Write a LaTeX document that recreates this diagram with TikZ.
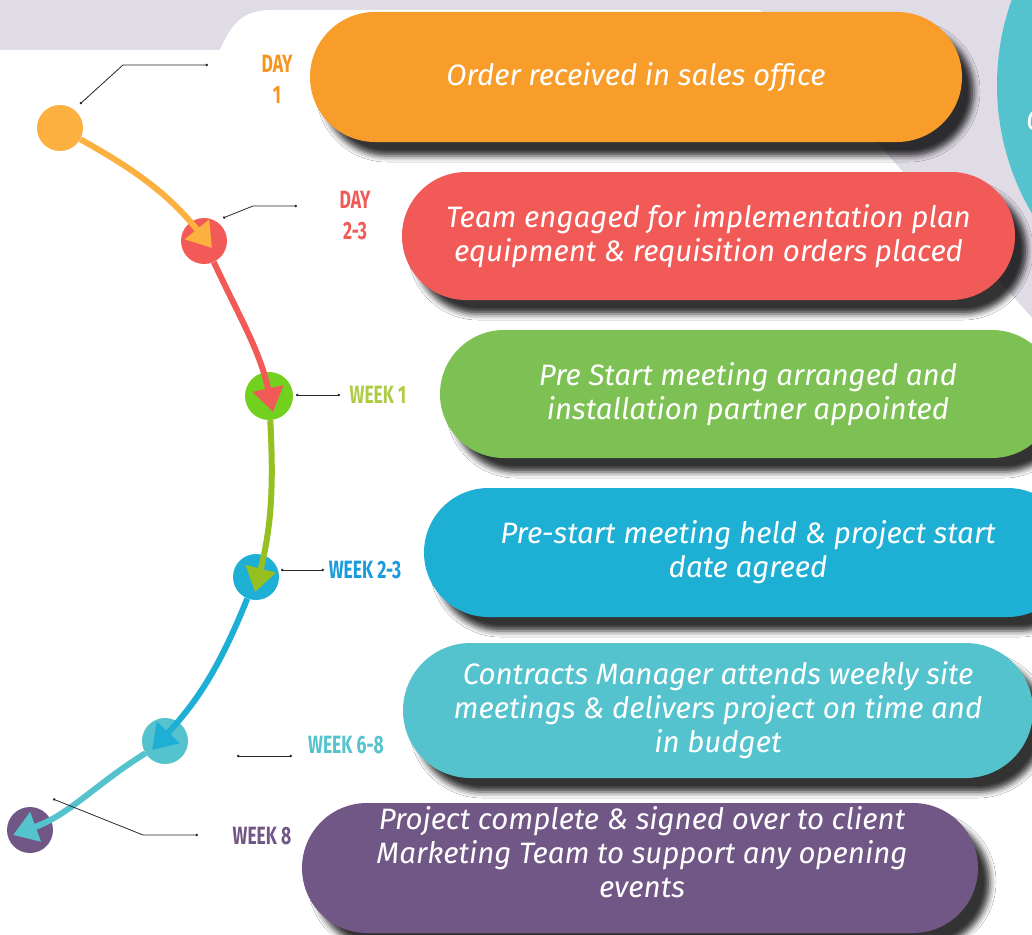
\documentclass[tikz,border=0pt]{standalone}
\usepackage{fontspec}
\setmainfont{Fira Sans}
\newfontfamily\tagfont[FakeStretch=0.7]{Fira Sans}
\usetikzlibrary{positioning, arrows.meta, shapes.misc, shadows.blur}

\definecolor{bggray}{RGB}{224,220,230}
\definecolor{orangepill}{HTML}{F89C2A}
\definecolor{orangedot}{HTML}{FBB040}
\definecolor{orangetag}{HTML}{F7941D}
\definecolor{redpill}{HTML}{F15A57}
\definecolor{greenpill}{HTML}{7DC154}
\definecolor{greendot}{HTML}{72D11F}
\definecolor{olivearrow}{HTML}{96BF21}
\definecolor{greentag}{HTML}{AFCB45}
\definecolor{bluepill}{HTML}{1EAFD5}
\definecolor{bluetag}{HTML}{1A9CDC}
\definecolor{tealpill}{HTML}{55C3CD}
\definecolor{purplepill}{HTML}{715786}

\tikzset{
  pill/.style={rounded rectangle, fill=#1, inner sep=0pt, text=white,
    font=\itshape\fontsize{29.5}{34}\selectfont, align=center,
    blur shadow={shadow xshift=12pt, shadow yshift=-14pt, shadow blur radius=6pt, shadow opacity=80}},
  note/.style={text=white, font=\itshape\fontsize{29.5}{34}\selectfont, align=center, inner sep=0pt},
  dot/.style={circle, fill=#1, minimum size=46pt, inner sep=0pt},
  tag/.style={text=#1, font=\tagfont\bfseries\fontsize{25}{31}\selectfont, align=center, inner sep=0pt},
  leader/.style={black!85, line width=0.8pt, {Circle[length=2.4pt]}-{Circle[length=2.4pt]}},
  flow/.style={draw=#1, line width=6pt, -{Triangle[length=24pt, width=30pt, fill=#1]}},
}

\begin{document}
\begin{tikzpicture}[x=1pt, y=1pt]
  \useasboundingbox (0,0) rectangle (1032,-934);
  \clip (0,0) rectangle (1032,-934);

  % background
  \fill[bggray] (0,0) rectangle (1032,-330);
  \fill[white] (0,-50) -- (220,-50) .. controls (232,-22) and (244,-10) .. (272,-10)
    -- (760,-10) -- (1032,-318) -- (1032,-934) -- (0,-934) -- cycle;
  \fill[tealpill] (1250,-85) circle (253pt);
  \node[note, anchor=west] (cut) at (1026,-120) {C};

  % steps
  \node[pill=orangepill, minimum width=652pt, minimum height=130pt] (p1) at (636,-77)
    {Order received in sales office};
  \node[pill=redpill, minimum width=613pt, minimum height=128pt] (p2) at (708.5,-236)
    {Team engaged for implementation plan\\equipment \& requisition orders placed};
  \node[pill=greenpill, minimum width=616pt, minimum height=128pt] (p3) at (748,-394)
    {Pre Start meeting arranged and\\installation partner appointed};
  \node[pill=bluepill, minimum width=648pt, minimum height=129pt] (p4) at (748,-552.5)
    {Pre-start meeting held \& project start\\date agreed};
  \node[pill=tealpill, minimum width=630pt, minimum height=135pt] (p5) at (718,-710.5)
    {Contracts Manager attends weekly site\\meetings \& delivers project on time and\\in budget};
  \node[pill=purplepill, minimum width=676pt, minimum height=130pt] (p6) at (640,-868) {};
  \node[note] (n6) at (642,-852)
    {Project complete \& signed over to client\\Marketing Team to support any opening\\events};

  % timeline
  \node[dot=orangedot] (c1) at (60,-128) {};
  \node[dot=redpill] (c2) at (204,-241) {};
  \node[dot=greendot, minimum size=48pt] (c3) at (269,-396) {};
  \node[dot=bluepill] (c4) at (256,-577) {};
  \node[dot=tealpill] (c5) at (165,-741) {};
  \node[dot=purplepill] (c6) at (30,-830) {};

  \coordinate (t2) at (212,-248);
  \coordinate (t3) at (273,-412);
  \coordinate (t4) at (255,-592);
  \coordinate (t5) at (152,-750);
  \coordinate (t6) at (13,-835);

  \draw[flow=orangedot] (c1) to[out=-29, in=129] (t2);
  \draw[flow=redpill] (c2) to[out=-65, in=102] (t3);
  \draw[flow=olivearrow] (c3) to[out=-87, in=76] (t4);
  \draw[flow=bluepill] (c4) to[out=-112, in=47] (t5);
  \draw[flow=tealpill] (c5) to[out=-148, in=20] (t6);

  % labels
  \node[tag=orangetag] (g1) at (277,-79) {DAY\\1};
  \node[tag=redpill] (g2) at (355,-216) {DAY\\2-3};
  \node[tag=greentag] (g3) at (378,-395) {WEEK 1};
  \node[tag=bluetag] (g4) at (365,-570) {WEEK 2-3};
  \node[tag=tealpill] (g5) at (346,-745) {WEEK 6-8};
  \node[tag=purplepill] (g6) at (262,-836) {WEEK 8};

  \coordinate (l1a) at (80,-104);
  \coordinate (l1b) at (123,-65);
  \coordinate (l1c) at (208,-65);
  \coordinate (l2a) at (223,-218);
  \coordinate (l2b) at (253,-206);
  \coordinate (l2c) at (297,-206);
  \coordinate (l3a) at (296,-395);
  \coordinate (l3c) at (340,-395);
  \coordinate (l4a) at (281,-570);
  \coordinate (l4c) at (324,-570);
  \coordinate (l5a) at (237,-756);
  \coordinate (l5c) at (292,-756);
  \coordinate (l6a) at (53,-799);
  \coordinate (l6b) at (143,-835);
  \coordinate (l6c) at (198,-835);

  \draw[leader] (l1a) -- (l1b) -- (l1c);
  \draw[leader] (l2a) -- (l2b) -- (l2c);
  \draw[leader] (l3a) -- (l3c);
  \draw[leader] (l4a) -- (l4c);
  \draw[leader] (l5a) -- (l5c);
  \draw[leader] (l6a) -- (l6b) -- (l6c);
\end{tikzpicture}
\end{document}
